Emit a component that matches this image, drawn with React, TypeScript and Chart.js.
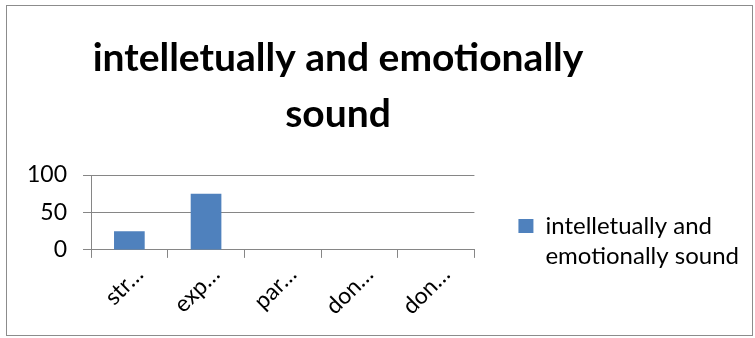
import { useEffect, useRef } from 'react';
import { Chart, registerables } from 'chart.js';

Chart.register(...registerables);

// Chart content
const categories = ['str…', 'exp…', 'par…', 'don…', 'don…'];
const seriesName = 'intelletually and emotionally sound';
const seriesValues = [25, 75, 0, 0, 0];
const yTicks = [0, 50, 100];
const titleLines = ['intelletually and emotionally', 'sound'];
const legendLines = ['intelletually and', 'emotionally sound'];

const FONT = 'Lato';
const BAR_BLUE = '#4f81bd';
const AXIS_GREY = '#868686';
const TITLE_CENTER_X = 331;
const LEGEND_RAISE = 5;

// Centres the title over a chosen x and lifts the legend block slightly
const layoutTweaks = {
  id: 'layoutTweaks',
  afterLayout(chart: any) {
    const t = chart.titleBlock;
    if (t) {
      t.left = 0;
      t.right = TITLE_CENTER_X * 2;
    }
    const l = chart.legend;
    if (l) {
      l.top -= LEGEND_RAISE;
      l.bottom -= LEGEND_RAISE;
    }
  },
};

export default function App() {
  const ref = useRef<HTMLCanvasElement>(null);

  useEffect(() => {
    if (!ref.current) return;
    const tickFont = { family: FONT, size: 23 };
    const chart = new Chart(ref.current, {
      type: 'bar',
      data: {
        labels: categories,
        datasets: [
          {
            label: seriesName,
            data: seriesValues,
            backgroundColor: BAR_BLUE,
            borderWidth: 0,
            barPercentage: 0.4,
            categoryPercentage: 1,
          },
        ],
      },
      plugins: [layoutTweaks],
      options: {
        animation: false,
        responsive: false,
        maintainAspectRatio: false,
        layout: { padding: { left: 4, right: 3, top: 0, bottom: 12 } },
        plugins: {
          title: {
            display: true,
            text: titleLines,
            color: '#000',
            font: { family: FONT, size: 39, weight: 'bold', lineHeight: 56 / 39 },
            padding: { top: 24, bottom: 33 },
          },
          legend: {
            position: 'right',
            align: 'end',
            maxWidth: 320,
            labels: {
              font: { family: FONT, size: 24, lineHeight: 30 / 24 },
              color: '#000',
              boxWidth: 15,
              boxHeight: 14,
              padding: 44,
              generateLabels: (c: any) => {
                const items = Chart.defaults.plugins.legend.labels.generateLabels(c);
                return items.map((it: any) => ({ ...it, text: legendLines, lineWidth: 0 }));
              },
            },
          },
          tooltip: { enabled: false },
        },
        scales: {
          x: {
            afterFit: (scale: any) => {
              // rotated labels stay inside the plot width, so no side padding
              scale.paddingLeft = 0;
              scale.paddingRight = 0;
            },
            grid: {
              display: true,
              drawOnChartArea: false,
              drawTicks: true,
              tickLength: 8,
              color: AXIS_GREY,
              offset: true,
            },
            border: { color: AXIS_GREY },
            ticks: {
              font: tickFont,
              color: '#000',
              minRotation: 45,
              maxRotation: 45,
              autoSkip: false,
              labelOffset: 10,
            },
          },
          y: {
            min: 0,
            max: 100,
            afterBuildTicks: (axis: any) => {
              axis.ticks = yTicks.map((v) => ({ value: v }));
            },
            ticks: { font: tickFont, color: '#000', padding: 16 },
            grid: { color: AXIS_GREY, tickLength: 8 },
            border: { color: AXIS_GREY },
          },
        },
      },
    });
    return () => chart.destroy();
  }, []);

  return (
    <div
      style={{
        position: 'absolute',
        left: 6,
        top: 5,
        width: 745,
        height: 329,
        border: '1px solid #8c8c8c',
        background: '#fff',
      }}
    >
      <canvas ref={ref} width={745} height={329} style={{ display: 'block' }} />
    </div>
  );
}
